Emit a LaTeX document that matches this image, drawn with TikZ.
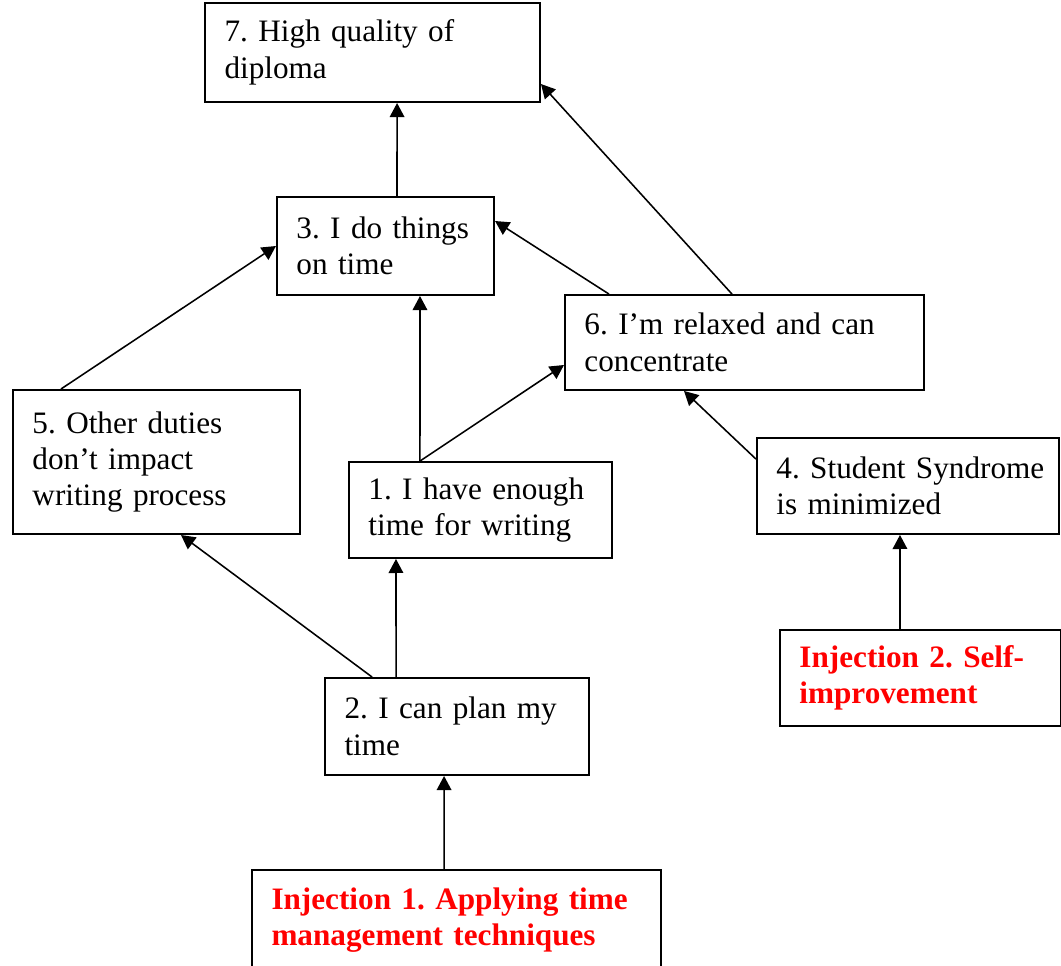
\documentclass[tikz,border=0pt]{standalone}
\usepackage{fontspec}
\setmainfont{Liberation Serif}
\usepackage{xcolor}
\definecolor{injred}{HTML}{FF0000}
\usetikzlibrary{arrows.meta,calc}
\tikzset{
  crtbox/.style={draw,line width=0.75pt,align=left,inner xsep=7.5pt,inner ysep=0pt,
    font=\fontsize{12}{14}\selectfont\frenchspacing},
  injtext/.style={text=injred,font=\fontsize{12}{14}\selectfont\frenchspacing\bfseries},
  crtarrow/.style={line width=0.6pt,-{Triangle[length=5.4pt,width=5.6pt]}}
}

\begin{document}
\begin{tikzpicture}[x=0.3846pt,y=-0.3846pt]
  \useasboundingbox (0,0) rectangle (1061,965);

  \node[crtbox,text width=113.8pt,minimum height=38.1pt] (n7) at (372.5,52.5) {7. High quality of\\diploma};
  \node[crtbox,text width=68.5pt,minimum height=37.7pt] (n3) at (385.5,246) {3. I do things\\on time};
  \node[crtbox,text width=123.1pt,minimum height=36.5pt] (n6) at (744.5,342.5) {6. I’m relaxed and can\\concentrate};
  \node[crtbox,text width=95.4pt,minimum height=55.4pt] (n5) at (156.5,462) {5. Other duties\\don’t impact\\writing process};
  \node[crtbox,text width=86.2pt,minimum height=36.9pt] (n1) at (480.5,510) {1. I have enough\\time for writing};
  \node[crtbox,text width=101.2pt,minimum height=36.9pt] (n4) at (908,486) {\mbox{4. Student Syndrome}\\is minimized};
  \node[crtbox,injtext,text width=93.1pt,minimum height=36.9pt] (inj2) at (920.5,678) {Injection 2. Self-\\improvement};
  \node[crtbox,text width=86.5pt,minimum height=37.3pt] (n2) at (457,726.5) {2. I can plan my\\time};
  \node[crtbox,injtext,text width=142.3pt,minimum height=38.5pt] (inj1) at (456.5,920) {Injection 1. Applying time\\management techniques};

  % cause and effect links
  \draw[crtarrow] ($(n3.north west)+(121,0)$) -- ($(n7.south west)+(193,0)$);
  \draw[crtarrow] ($(n6.north west)+(168,0)$) -- ($(n7.south east)+(0,-19)$);
  \draw[crtarrow] ($(n6.north west)+(45,0)$) -- ($(n3.north east)+(0,25)$);
  \draw[crtarrow] ($(n5.north west)+(49,0)$) -- (n3.west);
  \draw[crtarrow] ($(n1.north west)+(72,0)$) -- ($(n3.south west)+(144,0)$);
  \draw[crtarrow] ($(n1.north west)+(72,0)$) -- ($(n6.west)+(0,22.5)$);
  \draw[crtarrow] ($(n4.north west)+(0,22)$) -- ($(n6.south west)+(120,0)$);
  \draw[crtarrow] ($(n2.north west)+(48,0)$) -- ($(n5.south west)+(169,0)$);
  \draw[crtarrow] ($(n2.north west)+(72,0)$) -- ($(n1.south west)+(48,0)$);
  \draw[crtarrow] ($(inj2.north west)+(121,0)$) -- ($(n4.south west)+(144,0)$);
  \draw[crtarrow] ($(inj1.north west)+(193,0)$) -- ($(n2.south west)+(120,0)$);
\end{tikzpicture}
\end{document}
